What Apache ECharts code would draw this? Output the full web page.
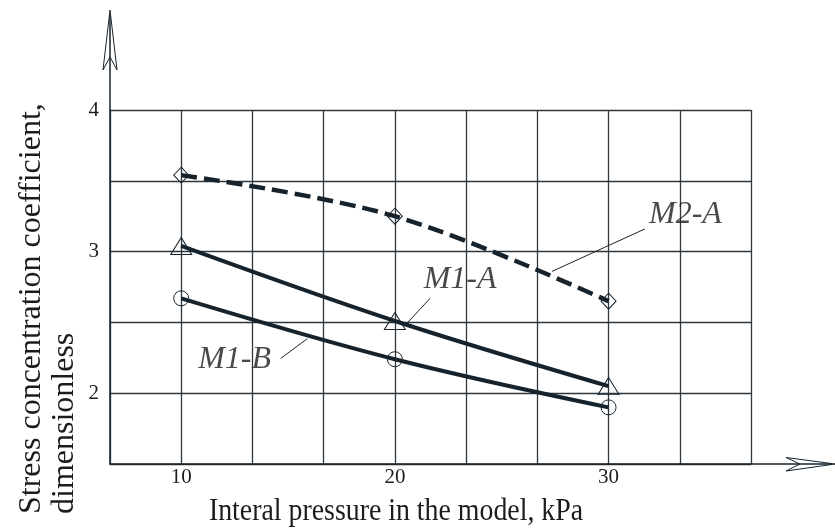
<!DOCTYPE html>
<html>
<head>
<meta charset="utf-8">
<script src="https://cdn.jsdelivr.net/npm/echarts@6/dist/echarts.min.js"></script>
<style>
  html, body { margin: 0; padding: 0; background: #fff; }
  #chart { width: 835px; height: 529px; }
</style>
</head>
<body>
<div id="chart"></div>
<script>
const pressure = [10, 20, 30]
const m2a = [3.54, 3.25, 2.65]
const m1a = [3.04, 2.51, 2.05]
const m1b = [2.67, 2.24, 1.9]
const xTicks = [10, 20, 30]
const yTicks = [2, 3, 4]

// annotation label + leader line, in data units
const notes = [
  { name: 'M2-A', text: [33.6, 3.26], from: [31.7, 3.16], to: [27.35, 2.86] },
  { name: 'M1-A', text: [23.05, 2.8], from: [21.65, 2.67], to: [20.6, 2.5] },
  { name: 'M1-B', text: [12.5, 2.24], from: [14.65, 2.245], to: [15.9, 2.385] }
]

const ink = '#17232c'
const gridInk = '#2e373d'
const txt = '#1c1c1c'
const serif = '"Liberation Serif", "Times New Roman", serif'

const pairs = vals => pressure.map((x, i) => [x, vals[i]])
const onTick = (v, list) => list.some(t => Math.abs(v - t) < 1e-6)

const chart = echarts.init(document.getElementById('chart'))

const line = (name, vals, symbol, size, dashed) => ({
  name,
  type: 'line',
  data: pairs(vals),
  smooth: 0.35,
  symbol,
  symbolSize: size,
  showAllSymbol: true,
  z: 3,
  lineStyle: { color: ink, width: dashed ? 4.5 : 4, type: dashed ? [16, 7] : 'solid' },
  itemStyle: { color: 'rgba(0,0,0,0)', borderColor: ink, borderWidth: 1 }
})

const series = [
  line('M2-A', m2a, 'diamond', [15, 16], true),
  line('M1-A', m1a, 'triangle', [21, 17], false),
  line('M1-B', m1b, 'circle', 15, false)
]

// leader lines and labels
series.push({
  type: 'scatter',
  data: notes.map(n => ({ value: n.text, label: { formatter: n.name } })),
  symbolSize: 0,
  silent: true,
  label: {
    show: true,
    position: 'inside',
    fontFamily: serif,
    fontStyle: 'italic',
    fontSize: 32,
    color: txt
  },
  markLine: {
    silent: true,
    symbol: 'none',
    label: { show: false },
    lineStyle: { color: '#222', width: 1, type: 'solid' },
    data: notes.map(n => [{ coord: n.from }, { coord: n.to }])
  }
})

chart.setOption({
  animation: false,
  grid: { left: 110, top: 110, right: 84, bottom: 65 },
  xAxis: {
    type: 'value',
    min: 20 / 3,
    max: 110 / 3,
    interval: 10 / 3,
    axisLine: { lineStyle: { color: ink, width: 1.5 } },
    axisTick: { show: false },
    axisLabel: {
      margin: 3,
      fontFamily: serif,
      fontSize: 21,
      color: txt,
      formatter: v => onTick(v, xTicks) ? String(Math.round(v)) : ''
    },
    splitLine: { show: true, lineStyle: { color: gridInk, width: 1.3 } }
  },
  yAxis: {
    type: 'value',
    min: 1.5,
    max: 4,
    interval: 0.5,
    axisLine: { show: true, lineStyle: { color: ink, width: 1.5 } },
    axisTick: { show: false },
    axisLabel: {
      margin: 11,
      fontFamily: serif,
      fontSize: 21,
      color: txt,
      padding: [5, 0, 0, 0],
      formatter: v => onTick(v, yTicks) ? String(v) : ''
    },
    splitLine: { show: true, lineStyle: { color: gridInk, width: 1.3 } }
  },
  series,
  graphic: [
    // y axis extension and open arrow head
    { type: 'line', shape: { x1: 110, y1: 110, x2: 110, y2: 14 }, style: { stroke: ink, lineWidth: 1.5 } },
    { type: 'polygon', shape: { points: [[110, 10], [103, 70], [110, 57], [117, 70]] },
      style: { fill: 'none', stroke: ink, lineWidth: 1 } },
    // x axis extension and open arrow head
    { type: 'line', shape: { x1: 751, y1: 464, x2: 832, y2: 464 }, style: { stroke: ink, lineWidth: 1.5 } },
    { type: 'polygon', shape: { points: [[835, 464], [786, 457.5], [800, 464], [786, 471]] },
      style: { fill: 'none', stroke: ink, lineWidth: 1 } },
    // axis titles
    { type: 'text', x: 32, y: 514, rotation: Math.PI / 2,
      style: { text: 'Stress concentration coefficient,', font: '32px ' + serif, fill: txt,
        textAlign: 'left', textVerticalAlign: 'middle' } },
    { type: 'text', x: 65, y: 514, rotation: Math.PI / 2,
      style: { text: 'dimensionless', font: '32px ' + serif, fill: txt,
        textAlign: 'left', textVerticalAlign: 'middle' } },
    { type: 'text', x: 396, y: 512, scaleX: 0.87,
      style: { text: 'Interal pressure in the model, kPa', font: '32px ' + serif, fill: txt,
        textAlign: 'center', textVerticalAlign: 'middle' } }
  ]
})
</script>
</body>
</html>
